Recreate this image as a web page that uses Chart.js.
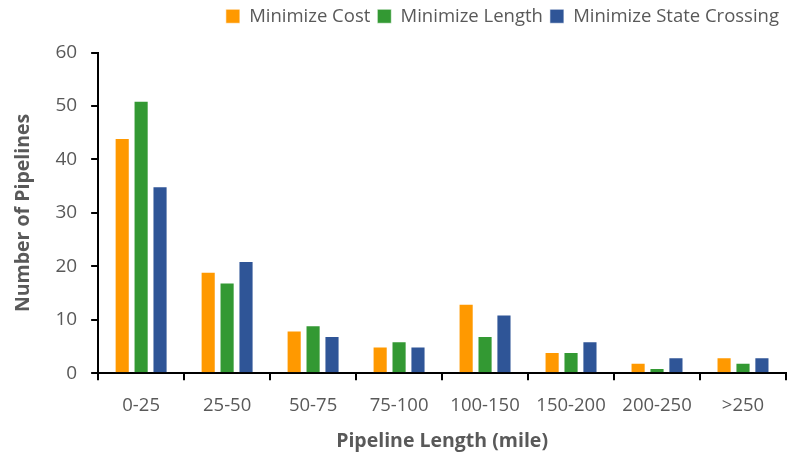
<!DOCTYPE html>
<html>
<head>
  <title>Pipeline Length Distribution</title>
  <script src="https://cdn.jsdelivr.net/npm/chart.js"></script>
  <style>
    body { margin: 0; background: white; }
    #wrap { width: 796px; height: 453px; }
  </style>
</head>
<body>
  <div id="wrap"><canvas id="chart"></canvas></div>
  <script>
    const categories = ['0-25', '25-50', '50-75', '75-100', '100-150', '150-200', '200-250', '>250'];
    const minCost = [44, 19, 8, 5, 13, 4, 2, 3];
    const minLength = [51, 17, 9, 6, 7, 4, 1, 2];
    const minStateCrossing = [35, 21, 7, 5, 11, 6, 3, 3];
    const yTicks = [0, 10, 20, 30, 40, 50, 60];

    const fontFamily = "'Open Sans', 'Noto Sans', sans-serif";
    const grey = '#595959';

    function series(label, data, color) {
      return {
        label: label,
        data: data,
        backgroundColor: color,
        borderColor: 'rgba(255,255,255,0.6)',
        borderWidth: 1,
        categoryPercentage: 0.66,
        barPercentage: 0.8
      };
    }

    // give the legend a bit more room below it
    const legendSpace = {
      id: 'legendSpace',
      beforeInit(chart) {
        const fit = chart.legend.fit;
        chart.legend.fit = function () {
          fit.bind(chart.legend)();
          this.height += 17;
        };
      }
    };

    new Chart(document.getElementById('chart'), {
      type: 'bar',
      data: {
        labels: categories,
        datasets: [
          series('Minimize Cost', minCost, '#FF9900'),
          series('Minimize Length', minLength, '#339933'),
          series('Minimize State Crossing', minStateCrossing, '#2F5597')
        ]
      },
      plugins: [legendSpace],
      options: {
        responsive: true,
        maintainAspectRatio: false,
        animation: false,
        layout: { padding: { left: 2, right: 10, top: 0, bottom: 0 } },
        plugins: {
          legend: {
            position: 'top',
            align: 'end',
            labels: {
              boxWidth: 14,
              boxHeight: 14,
              padding: 7,
              color: grey,
              font: { family: fontFamily, size: 18.5 }
            }
          },
          tooltip: { enabled: false }
        },
        scales: {
          x: {
            grid: {
              offset: true,
              drawOnChartArea: false,
              tickLength: 7,
              color: '#000',
              lineWidth: 2
            },
            border: { color: '#000', width: 2 },
            ticks: { color: grey, font: { family: fontFamily, size: 18.5 }, padding: 14 },
            title: {
              display: true,
              text: 'Pipeline Length (mile)',
              color: grey,
              font: { family: fontFamily, size: 19.5, weight: 'bold', lineHeight: 1.1 },
              padding: { top: 0, bottom: 1 }
            }
          },
          y: {
            min: 0,
            max: 60,
            afterBuildTicks: axis => { axis.ticks = yTicks.map(v => ({ value: v })); },
            grid: {
              drawOnChartArea: false,
              tickLength: 7,
              color: '#000',
              lineWidth: 2
            },
            border: { color: '#000', width: 2 },
            ticks: { color: grey, font: { family: fontFamily, size: 19 }, padding: 14 },
            title: {
              display: true,
              text: 'Number of Pipelines',
              color: grey,
              font: { family: fontFamily, size: 19.5, weight: 'bold' },
              padding: { top: 10, bottom: 6 }
            }
          }
        }
      }
    });
  </script>
</body>
</html>
